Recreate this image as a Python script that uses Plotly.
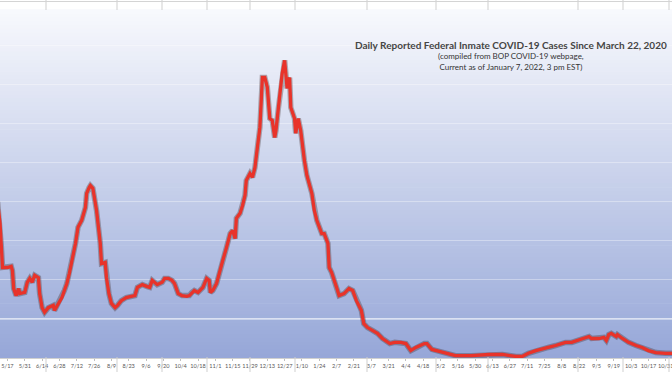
import plotly.graph_objects as go

# ---------------- data ----------------
dates = [
    "2020-05-09", "2020-05-11", "2020-05-12", "2020-05-13", "2020-05-17", "2020-05-20", "2020-05-21",
    "2020-05-22", "2020-05-24", "2020-05-26", "2020-05-27", "2020-05-31", "2020-06-02", "2020-06-04",
    "2020-06-06", "2020-06-08", "2020-06-11", "2020-06-12", "2020-06-14", "2020-06-16", "2020-06-19",
    "2020-06-23", "2020-06-24", "2020-06-27", "2020-06-30", "2020-07-02", "2020-07-04", "2020-07-06",
    "2020-07-09", "2020-07-11", "2020-07-13", "2020-07-16", "2020-07-19", "2020-07-20", "2020-07-22",
    "2020-07-23", "2020-07-25", "2020-07-28", "2020-07-31", "2020-08-01", "2020-08-04", "2020-08-05",
    "2020-08-07", "2020-08-09", "2020-08-12", "2020-08-14", "2020-08-17", "2020-08-21", "2020-08-25",
    "2020-08-28", "2020-08-30", "2020-09-03", "2020-09-07", "2020-09-09", "2020-09-11", "2020-09-15",
    "2020-09-19", "2020-09-21", "2020-09-24", "2020-09-27", "2020-09-29", "2020-10-02", "2020-10-05",
    "2020-10-09", "2020-10-11", "2020-10-13", "2020-10-15", "2020-10-18", "2020-10-22", "2020-10-25",
    "2020-10-27", "2020-10-28", "2020-10-30", "2020-11-02", "2020-11-04", "2020-11-07", "2020-11-10",
    "2020-11-13", "2020-11-15", "2020-11-17", "2020-11-18", "2020-11-21", "2020-11-23", "2020-11-25",
    "2020-11-26", "2020-11-29", "2020-12-01", "2020-12-03", "2020-12-05", "2020-12-07", "2020-12-08",
    "2020-12-09", "2020-12-11", "2020-12-13", "2020-12-15", "2020-12-17", "2020-12-19", "2020-12-20",
    "2020-12-22", "2020-12-24", "2020-12-25", "2020-12-27", "2020-12-28", "2020-12-29", "2020-12-31",
    "2021-01-01", "2021-01-04", "2021-01-05", "2021-01-07", "2021-01-09", "2021-01-12", "2021-01-14",
    "2021-01-18", "2021-01-20", "2021-01-22", "2021-01-26", "2021-01-28", "2021-01-31", "2021-02-01",
    "2021-02-03", "2021-02-07", "2021-02-09", "2021-02-13", "2021-02-17", "2021-02-20", "2021-02-23",
    "2021-02-27", "2021-03-01", "2021-03-04", "2021-03-08", "2021-03-12", "2021-03-16", "2021-03-22",
    "2021-03-26", "2021-03-31", "2021-04-04", "2021-04-08", "2021-04-12", "2021-04-19", "2021-04-21",
    "2021-04-25", "2021-05-01", "2021-05-06", "2021-05-14", "2021-05-27", "2021-06-10", "2021-06-21",
    "2021-07-02", "2021-07-07", "2021-07-12", "2021-07-18", "2021-07-23", "2021-07-28", "2021-08-03",
    "2021-08-08", "2021-08-11", "2021-08-16", "2021-08-22", "2021-08-27", "2021-08-30", "2021-09-01",
    "2021-09-07", "2021-09-11", "2021-09-13", "2021-09-15", "2021-09-17", "2021-09-21", "2021-09-22",
    "2021-09-26", "2021-10-01", "2021-10-07", "2021-10-12", "2021-10-17", "2021-10-23", "2021-10-31",
    "2021-11-06",
]

daily_cases = [
    400, 345, 288, 232, 232, 235, 224,
    178, 160, 178, 165, 168, 194, 204,
    194, 212, 206, 165, 129, 117, 129,
    135, 122, 140, 155, 173, 191, 217,
    258, 294, 335, 353, 386, 422, 437,
    442, 435, 378, 294, 242, 245, 206,
    165, 140, 129, 135, 147, 155, 158,
    160, 181, 188, 183, 181, 199, 188,
    194, 204, 204, 199, 191, 165, 160,
    158, 160, 168, 173, 168, 181, 204,
    199, 168, 173, 191, 217, 250, 283,
    319, 327, 306, 358, 371, 391, 417,
    455, 473, 463, 488, 540, 591, 653,
    719, 719, 694, 614, 609, 565, 583,
    642, 694, 729, 763, 729, 691, 719,
    642, 614, 576, 614, 583, 506, 468,
    422, 378, 353, 319, 319, 294, 232,
    219, 181, 160, 165, 178, 173, 147,
    122, 88, 78, 71, 63, 50, 37,
    40, 40, 37, 19, 27, 37, 37,
    22, 17, 12, 6, 6, 9, 9,
    4, 4, 12, 19, 24, 27, 32,
    37, 40, 40, 47, 53, 55, 50,
    50, 53, 45, 60, 63, 55, 60,
    50, 40, 32, 27, 19, 14, 12,
    12,
]

tick_dates = [
    "2020-05-17", "2020-05-31", "2020-06-14", "2020-06-28", "2020-07-12", "2020-07-26", "2020-08-09",
    "2020-08-23", "2020-09-06", "2020-09-20", "2020-10-04", "2020-10-18", "2020-11-01", "2020-11-15",
    "2020-11-29", "2020-12-13", "2020-12-27", "2021-01-10", "2021-01-24", "2021-02-07", "2021-02-21",
    "2021-03-07", "2021-03-21", "2021-04-04", "2021-04-18", "2021-05-02", "2021-05-16", "2021-05-30",
    "2021-06-13", "2021-06-27", "2021-07-11", "2021-07-25", "2021-08-08", "2021-08-22", "2021-09-05",
    "2021-09-19", "2021-10-03", "2021-10-17", "2021-10-31",
]
tick_labels = [
    "5/17", "5/31", "6/14", "6/28", "7/12", "7/26", "8/9",
    "8/23", "9/6", "9/20", "10/4", "10/18", "11/1", "11/15",
    "11/29", "12/13", "12/27", "1/10", "1/24", "2/7", "2/21",
    "3/7", "3/21", "4/4", "4/18", "5/2", "5/16", "5/30",
    "6/13", "6/27", "7/11", "7/25", "8/8", "8/22", "9/5",
    "9/19", "10/3", "10/17", "10/31",
]

title_text = "Daily Reported Federal Inmate COVID-19 Cases Since March 22, 2020"
subtitle_lines = ["(compiled from BOP COVID-19 webpage,", "Current as of January 7, 2022, 3 pm EST)"]

# ---------------- layout constants ----------------
W, H = 672, 372
M_T, M_B = 10, 14
PLOT_H = H - M_T - M_B
FONT = "Lato, 'Open Sans', sans-serif"


def py(pix):
    """pixel row -> paper y"""
    return (H - M_B - pix) / PLOT_H


fig = go.Figure()

# soft dark halo under the line (Excel-style shadow)
fig.add_trace(go.Scatter(
    x=dates, y=daily_cases, mode="lines",
    line=dict(color="rgba(70,45,45,0.35)", width=5.5),
    hoverinfo="skip", showlegend=False,
))
fig.add_trace(go.Scatter(
    x=dates, y=daily_cases, mode="lines",
    line=dict(color="#e8332a", width=3.3),
    showlegend=False,
))

shapes = []
# vertical gradient for the plot area
N = 90
top = (248, 249, 253)
bot = (150, 167, 216)
for i in range(N):
    f = (i + 0.5) / N
    c = tuple(round(top[k] + (bot[k] - top[k]) * f) for k in range(3))
    shapes.append(dict(
        type="rect", xref="paper", yref="paper", x0=0, x1=1,
        y0=1 - (i + 1) / N, y1=1 - i / N + 0.002,
        fillcolor="rgb(%d,%d,%d)" % c, line=dict(width=0), layer="below",
    ))
# brighter gridline at 100
shapes.append(dict(type="line", xref="paper", yref="y", x0=0, x1=1, y0=100, y1=100,
                   line=dict(color="rgba(255,255,255,0.85)", width=1.2), layer="below"))

# spreadsheet cell borders visible around the chart
cell_x = [46, 117, 162, 207, 250, 295, 367, 436, 488, 578, 623, 669]
for cx in cell_x:
    for (a, b) in [(0, M_T), (H - M_B - 1, H)]:
        shapes.append(dict(type="line", xref="paper", yref="paper",
                           x0=cx / W, x1=cx / W, y0=py(a), y1=py(b),
                           line=dict(color="#cfcfcf", width=1)))
shapes.append(dict(type="line", xref="paper", yref="paper", x0=0, x1=1,
                   y0=py(1.5), y1=py(1.5), line=dict(color="#d4d4d4", width=1)))

title_block = (
    "<span style='font-size:10px;color:#454545'><b>" + title_text + "</b></span><br>"
    + "<br>".join(subtitle_lines)
)
annotations = [
    dict(text=title_block, xref="paper", yref="paper",
         x=511 / W, y=py(55.5), xanchor="center", yanchor="middle", align="center",
         showarrow=False,
         font=dict(family=FONT, size=8, color="#333333")),
]

fig.update_layout(
    width=W, height=H,
    margin=dict(l=0, r=0, t=M_T, b=M_B, pad=0),
    paper_bgcolor="white",
    plot_bgcolor="rgba(0,0,0,0)",
    shapes=shapes,
    annotations=annotations,
    showlegend=False,
    xaxis=dict(
        type="date",
        range=["2020-05-10 23:00", "2021-11-05 02:00"],
        tickmode="array", tickvals=tick_dates, ticktext=tick_labels,
        tickangle=0, ticklabeloverflow="allow",
        tickfont=dict(family=FONT, size=5.6, color="#595959"),
        ticks="outside", ticklen=2, tickcolor="#bfbfbf",
        showline=True, linecolor="#d0d0d0", linewidth=1,
        showgrid=False, zeroline=False,
    ),
    yaxis=dict(
        range=[0, 892], dtick=100, showticklabels=False,
        showgrid=True, gridcolor="rgba(255,255,255,0.35)", gridwidth=1,
        zeroline=False, showline=False, ticks="",
    ),
)

fig.write_html(
    "out.html",
    config={"displayModeBar": False},
    post_script="document.body.style.margin='0px';document.body.style.overflow='hidden';",
)
